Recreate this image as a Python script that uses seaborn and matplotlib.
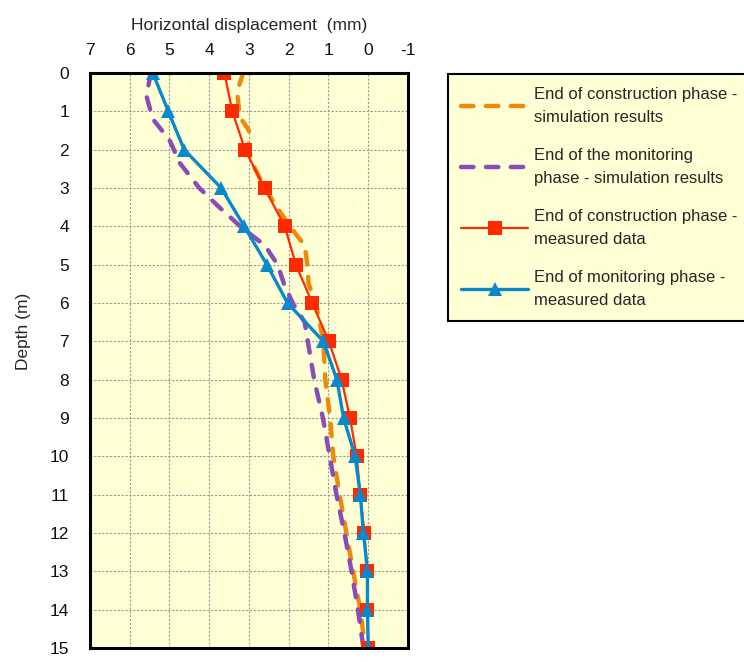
import matplotlib
matplotlib.use('Agg')
import matplotlib.pyplot as plt
import seaborn as sns
import pandas as pd

# simulation curves
sim_depth_con = [0, 0.5, 1.15, 1.5, 2, 2.5, 3, 3.5, 4, 4.5, 5, 5.5, 6, 7, 8, 9, 10, 11, 12, 13, 14, 15]
sim_con = [3.15, 3.3, 3.23, 3.0, 3.02, 2.85, 2.6, 2.3, 1.97, 1.6, 1.53, 1.5, 1.32, 1.13, 1.08, 0.96, 0.88, 0.72, 0.55, 0.38, 0.2, 0.08]

sim_depth_mon = [0, 0.6, 1.2, 1.75, 2.35, 3, 3.5, 4, 4.5, 5, 5.5, 6, 6.5, 7, 8, 9, 10, 11, 12, 13, 14, 15]
sim_mon = [5.47, 5.58, 5.42, 5.0, 4.74, 4.25, 3.75, 3.22, 2.6, 2.28, 2.12, 1.9, 1.6, 1.52, 1.36, 1.14, 0.97, 0.8, 0.6, 0.42, 0.26, 0.12]

depth = list(range(16))
meas_con = [3.62, 3.42, 3.1, 2.61, 2.1, 1.82, 1.41, 0.99, 0.67, 0.46, 0.29, 0.2, 0.1, 0.02, 0.02, 0.0]
meas_mon = [5.42, 5.03, 4.63, 3.7, 3.12, 2.55, 2.03, 1.13, 0.79, 0.62, 0.33, 0.2, 0.12, 0.02, 0.02, 0.0]

labels = ['End of construction phase -\nsimulation results',
          'End of the monitoring\nphase - simulation results',
          'End of construction phase -\nmeasured data',
          'End of monitoring phase -\nmeasured data']

c_orange = '#EE8A0A'
c_purple = '#8A4CB8'
c_red = '#FF2A00'
c_blue = '#0A88CC'
bg = '#FFFFD5'

sns.set_style('white')
plt.rcParams['font.family'] = ['Liberation Sans', 'DejaVu Sans']

fig = plt.figure(figsize=(7.44, 6.62), dpi=100)
ax = fig.add_axes([90 / 744, 14 / 662, 318 / 744, 575 / 662])
ax.set_facecolor(bg)

df_sc = pd.DataFrame({'x': sim_con, 'd': sim_depth_con})
df_sm = pd.DataFrame({'x': sim_mon, 'd': sim_depth_mon})
df_mc = pd.DataFrame({'x': meas_con, 'd': depth})
df_mm = pd.DataFrame({'x': meas_mon, 'd': depth})

sns.lineplot(data=df_sc, x='x', y='d', orient='y', estimator=None, ax=ax,
             color=c_orange, lw=3.2, label=labels[0])
sns.lineplot(data=df_sm, x='x', y='d', orient='y', estimator=None, ax=ax,
             color=c_purple, lw=3.2, label=labels[1])
sns.lineplot(data=df_mc, x='x', y='d', orient='y', estimator=None, ax=ax,
             color=c_red, lw=1.6, marker='s', markersize=9.5, markeredgewidth=0,
             label=labels[2])
sns.lineplot(data=df_mm, x='x', y='d', orient='y', estimator=None, ax=ax,
             color=c_blue, lw=2.4, marker='^', markersize=10.5, markeredgewidth=0,
             label=labels[3])

for ln in ax.lines[:2]:
    ln.set_dashes([2.8, 2.8])
    ln.set_dash_capstyle('round')

ax.set_xlim(7, -1)
ax.set_ylim(15, 0)
ax.set_xticks(range(-1, 8))
ax.set_yticks(range(0, 16))
ax.set_xticklabels([str(v) for v in range(-1, 8)])
ax.xaxis.tick_top()
ax.tick_params(axis='both', length=0, labelsize=12.5, colors='#111111')
ax.tick_params(axis='x', pad=11)
ax.tick_params(axis='y', pad=15)
ax.grid(True, color='#9a9a9a', linestyle=(0, (2, 1.5)), linewidth=0.8)
ax.set_axisbelow(True)
for sp in ax.spines.values():
    sp.set_color('black')
    sp.set_linewidth(2.2)

ax.set_xlabel('Horizontal displacement  (mm)', fontsize=12.5)
ax.xaxis.set_label_position('top')
ax.xaxis.set_label_coords(0.5, 1.075)
ax.set_ylabel('Depth (m)', fontsize=12.5)
ax.yaxis.set_label_coords(-0.185, 0.55)

leg = ax.legend(loc='upper left', bbox_to_anchor=(448 / 744, 1 - 74 / 662),
                bbox_transform=fig.transFigure, fontsize=12, frameon=True,
                fancybox=False, handlelength=4.0, handletextpad=0.35,
                labelspacing=1.38, borderpad=0.8, borderaxespad=0)
for t in leg.get_texts():
    t.set_linespacing(1.65)
leg.get_frame().set_facecolor(bg)
leg.get_frame().set_edgecolor('black')
leg.get_frame().set_linewidth(1.5)
leg.get_frame().set_alpha(1)

fig.savefig('out.png', dpi=100)
